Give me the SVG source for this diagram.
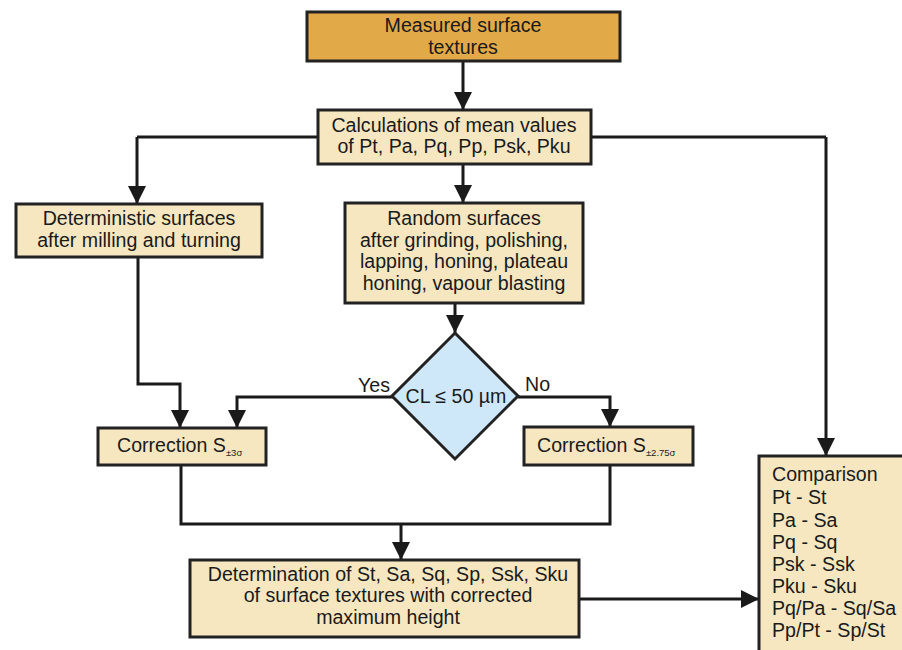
<svg xmlns="http://www.w3.org/2000/svg" width="902" height="650" viewBox="0 0 902 650">
<defs>
<marker id="ah" markerUnits="userSpaceOnUse" markerWidth="18" markerHeight="18" viewBox="0 0 18 18" refX="18" refY="9" orient="auto">
<path d="M0,0 L18,9 L0,18 Z" fill="#1a1a1a"/>
</marker>
<style>
.box{fill:#F6E7C1;stroke:#222;stroke-width:3}
.top{fill:#E1A947;stroke:#222;stroke-width:3}
.dia{fill:#CFE8F9;stroke:#222;stroke-width:3}
.ln{fill:none;stroke:#1a1a1a;stroke-width:3}
.ar{fill:none;stroke:#1a1a1a;stroke-width:3;marker-end:url(#ah)}
text{font-family:"Liberation Sans",Arial,sans-serif;font-size:19.6px;fill:#1a1a1a}
.c{text-anchor:middle}
.sub{font-size:9.5px}
</style>
</defs>
<rect width="902" height="650" fill="#fff"/>
<g id="connectors">
<path class="ar" d="M463,61 V110"/>
<path class="ln" d="M318,137 H137"/>
<path class="ar" d="M137,137 V204"/>
<path class="ln" d="M591,137 H826"/>
<path class="ar" d="M826,137 V456"/>
<path class="ar" d="M463,164 V203"/>
<path class="ar" d="M455,303 V333"/>
<path class="ar" d="M138,257 V384 H180 V428"/>
<path class="ar" d="M393,397 H237 V428"/>
<path class="ar" d="M518,397 H610 V427"/>
<path class="ln" d="M181,466 V524 H610 V466"/>
<path class="ar" d="M401,524 V560"/>
<path class="ar" d="M579,599 H759"/>
</g>
<g id="n1"><rect class="top" x="307" y="12" width="313" height="49"/>
<text class="c" x="463" y="32">Measured surface</text><text class="c" x="463" y="54">textures</text></g>
<g id="n2"><rect class="box" x="318" y="110" width="273" height="54"/>
<text class="c" x="454" y="132">Calculations of mean values</text><text class="c" x="454" y="153">of Pt, Pa, Pq, Pp, Psk, Pku</text></g>
<g id="n3"><rect class="box" x="16" y="204" width="246" height="53"/>
<text class="c" x="139" y="225">Deterministic surfaces</text><text class="c" x="139" y="247">after milling and turning</text></g>
<g id="n4"><rect class="box" x="345" y="203" width="238" height="100"/>
<text class="c" x="464" y="225">Random surfaces</text><text class="c" x="464" y="247">after grinding, polishing,</text><text class="c" x="464" y="268">lapping, honing, plateau</text><text class="c" x="464" y="290">honing, vapour blasting</text></g>
<g id="n5"><path class="dia" d="M455,333 L518,396 L455,459 L392,396 Z"/>
<text class="c" x="456" y="403">CL ≤ 50 µm</text></g>
<text x="358" y="392">Yes</text>
<text x="525" y="391">No</text>
<g id="n6"><rect class="box" x="98" y="428" width="168" height="37"/>
<text x="117" y="452">Correction S<tspan class="sub" dy="4">±3σ</tspan></text></g>
<g id="n7"><rect class="box" x="524" y="427" width="169" height="38"/>
<text x="537" y="452">Correction S<tspan class="sub" dy="4">±2.75σ</tspan></text></g>
<g id="n8"><rect class="box" x="190" y="560" width="389" height="77"/>
<text class="c" x="388" y="581">Determination of St, Sa, Sq, Sp, Ssk, Sku</text><text class="c" x="388" y="602">of surface textures with corrected</text><text class="c" x="388" y="624">maximum height</text></g>
<g id="n9"><rect class="box" x="759" y="456" width="160" height="210"/>
<text x="772" y="481">Comparison</text><text x="772" y="504">Pt - St</text><text x="772" y="527">Pa - Sa</text><text x="772" y="549">Pq - Sq</text><text x="772" y="571">Psk - Ssk</text><text x="772" y="593">Pku - Sku</text><text x="772" y="615">Pq/Pa - Sq/Sa</text><text x="772" y="637">Pp/Pt - Sp/St</text></g>
</svg>
